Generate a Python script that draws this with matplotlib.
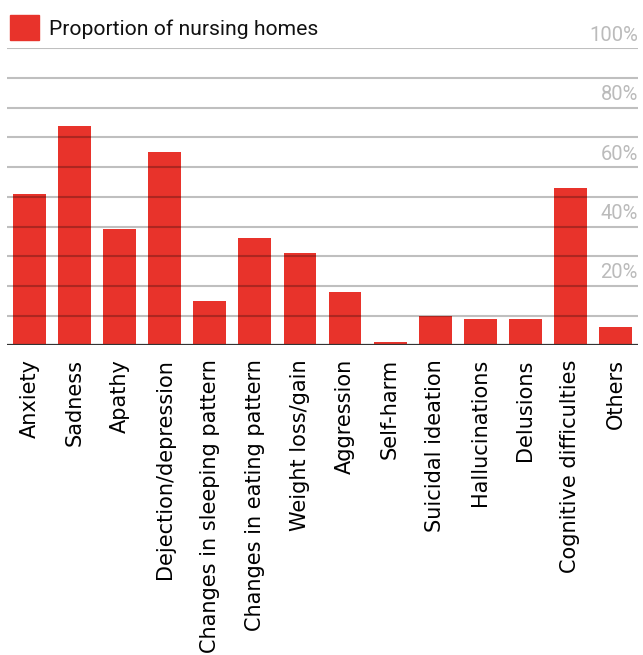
import matplotlib.pyplot as plt
import matplotlib.transforms as mtransforms
from matplotlib.patches import Rectangle

# symptom categories and share of nursing homes (%)
categories = ['Anxiety', 'Sadness', 'Apathy', 'Dejection/depression',
              'Changes in sleeping pattern', 'Changes in eating pattern',
              'Weight loss/gain', 'Aggression', 'Self-harm', 'Suicidal ideation',
              'Hallucinations', 'Delusions', 'Cognitive difficulties', 'Others']
proportion = [51, 74, 39, 65, 15, 36, 31, 18, 1, 10, 9, 9, 53, 6]
pct_ticks = [20, 40, 60, 80, 100]
pct_labels = ['20%', '40%', '60%', '80%', '100%']

red = '#e8332b'

fig = plt.figure(figsize=(6.43, 6.55), dpi=100)
ax = fig.add_axes([0.0109, 0.4728, 0.9813, 0.4534])

x = range(len(categories))
ax.bar(x, proportion, width=0.73, color=red, zorder=1)

# grid lines drawn on top of the bars
for g in range(10, 101, 10):
    ax.axhline(g, color='black', alpha=0.25, lw=1.5, zorder=3)
ax.axhline(0, color='#333333', lw=1.6, zorder=4)

ax.set_xlim(-0.5, len(categories) - 0.5)
ax.set_ylim(0, 100)
ax.set_xticks(list(x))
ax.set_xticklabels(categories, rotation=90, fontsize=15, family='DejaVu Sans')
ax.tick_params(axis='x', length=0, pad=10)
ax.set_yticks([])
for s in ax.spines.values():
    s.set_visible(False)

# percent labels on the right, just above the grid lines
trans = mtransforms.blended_transform_factory(ax.transAxes, ax.transData)
for v, lab in zip(pct_ticks, pct_labels):
    ax.annotate(lab, xy=(1.0, v), xycoords=trans, xytext=(0, 2.5),
                textcoords='offset points', ha='right', va='bottom',
                fontsize=14.5, color='#bbbbbb', family='Roboto')

# legend
fig.patches.append(Rectangle((10 / 643, 1 - 40 / 655), 29 / 643, 25 / 655,
                             transform=fig.transFigure, color=red))
fig.text(49 / 643, 1 - 29 / 655, 'Proportion of nursing homes', fontsize=15.2,
         family='Roboto', va='center', ha='left', color='#111111')

fig.savefig('out.png', dpi=100)
